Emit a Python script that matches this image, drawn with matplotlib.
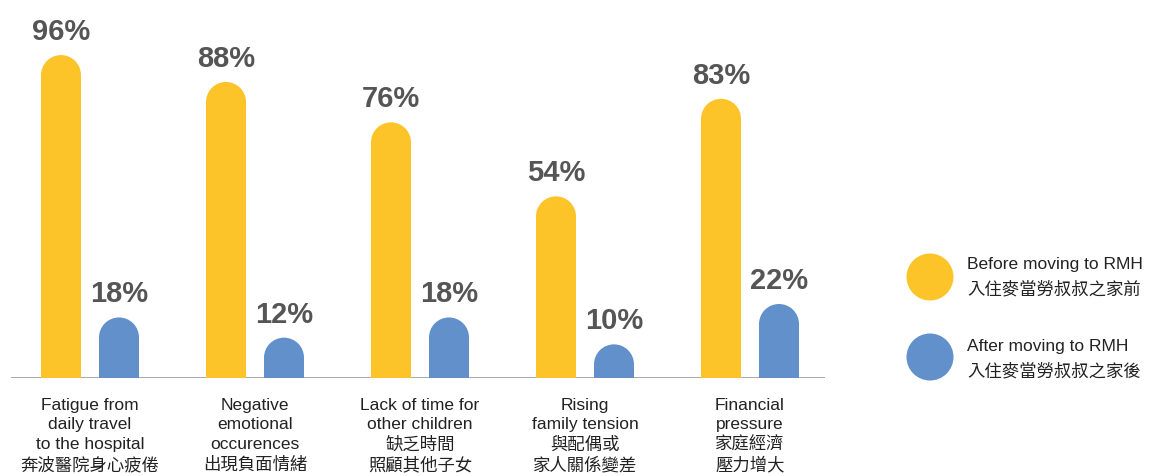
import matplotlib.pyplot as plt
from matplotlib.patches import Ellipse, Circle
import numpy as np

categories = [
    ['Fatigue from', 'daily travel', 'to the hospital', '奔波醫院身心疲倦'],
    ['Negative', 'emotional', 'occurences', '出現負面情緒'],
    ['Lack of time for', 'other children', '缺乏時間', '照顧其他子女'],
    ['Rising', 'family tension', '與配偶或', '家人關係變差'],
    ['Financial', 'pressure', '家庭經濟', '壓力增大'],
]
before = [96, 88, 76, 54, 83]
after = [18, 12, 18, 10, 22]
series_labels = [['Before moving to RMH', '入住麥當勞叔叔之家前'],
                 ['After moving to RMH', '入住麥當勞叔叔之家後']]

yellow = '#FDC429'
blue = '#6190CB'
grey = '#555555'
fonts = ['Liberation Sans', 'Noto Sans CJK TC', 'DejaVu Sans']
plt.rcParams['font.family'] = fonts

W, H = 1150, 477
fig = plt.figure(figsize=(W / 100, H / 100), dpi=100)

# axes placed in pixel terms: baseline at y=379, line from x=11 to x=825
group_px = 165.0
x0_px = 90.0
left_px, right_px = 11, 825
base_px = 379
ymax = 110
px_per_pct = 3.364
ax_h = ymax * px_per_pct
ax = fig.add_axes([left_px / W, (H - base_px) / H, (right_px - left_px) / W, ax_h / H])
ax.set_xlim((left_px - x0_px) / group_px, (right_px - x0_px) / group_px)
ax.set_ylim(0, ymax)
ax.axis('off')
ax.axhline(0, color='#9a9a9a', lw=1.2, zorder=1)

bar_w = 40 / group_px
off = 29 / group_px
r_y = (bar_w * group_px / 2) / px_per_pct   # cap radius in data units

x = np.arange(len(categories))
for vals, dx, col in [(before, -off, yellow), (after, off, blue)]:
    for xi, v in zip(x + dx, vals):
        ax.bar(xi, v - r_y, width=bar_w, color=col, zorder=2, linewidth=0)
        ax.add_patch(Ellipse((xi, v - r_y), bar_w, 2 * r_y, color=col, zorder=2, lw=0))
        ax.annotate(f'{v}%', (xi, v), xytext=(0, 11.5), textcoords='offset points',
                    ha='center', va='baseline', fontsize=21, fontweight='bold',
                    color=grey, family=fonts)

# category labels, one line at a time (pixel offsets below baseline)
line_px = [27, 46, 65.5, 86]
for xi, lines in zip(x, categories):
    for dy, txt in zip(line_px, lines):
        ax.annotate(txt, (xi, 0), xytext=(0, -dy * 0.72), textcoords='offset points',
                    ha='center', va='center', fontsize=12.5, color='#222222',
                    family=fonts)

# legend in pixel coords
lax = fig.add_axes([0, 0, 1, 1])
lax.set_xlim(0, W)
lax.set_ylim(H, 0)
lax.axis('off')
for cy, ty, col, lab in [(278, 265, yellow, series_labels[0]), (358, 347, blue, series_labels[1])]:
    lax.add_patch(Circle((930, cy), 23.5, color=col, lw=0))
    lax.text(967, ty, lab[0], ha='left', va='center', fontsize=12.5, color='#222222',
             family=fonts)
    lax.text(967, ty + 24, lab[1], ha='left', va='center', fontsize=12.5, color='#222222',
             family=fonts)

fig.savefig('out.png', dpi=100)
